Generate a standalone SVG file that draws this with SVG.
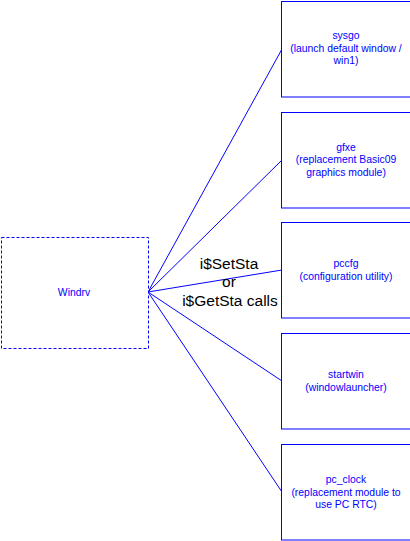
<svg xmlns="http://www.w3.org/2000/svg" width="410" height="541" viewBox="0 0 410 541">
<style>
.box{fill:#fff;stroke:#0000ff;stroke-width:1}
.dash{stroke-dasharray:3,2}
.lbl{font-family:"Liberation Sans",Arial,sans-serif;font-size:10.4px;fill:#0000ff;text-anchor:middle}
.big{font-family:"Liberation Sans",Arial,sans-serif;font-size:15.5px;fill:#000;text-anchor:middle}
.con{stroke:#0000ff;stroke-width:1;fill:none}
</style>
<rect width="410" height="541" fill="#fff"/>
<g id="connectors">
<line class="con" x1="148" y1="292" x2="282" y2="49"/>
<line class="con" x1="148" y1="292" x2="282" y2="160"/>
<line class="con" x1="148" y1="292" x2="282" y2="270"/>
<line class="con" x1="148" y1="292" x2="282" y2="381"/>
<line class="con" x1="148" y1="292" x2="282" y2="492"/>
<text class="big" x="229" y="269">i$SetSta</text>
<text class="big" x="229" y="287">or</text>
<text class="big" x="230" y="306">i$GetSta calls</text>
</g>
<g id="windrv">
<rect class="box dash" x="1.5" y="237.5" width="147" height="111"/>
<text class="lbl" x="74" y="296">Windrv</text>
</g>
<g id="sysgo">
<rect class="box" x="281.5" y="1.5" width="140" height="95.5"/>
<text class="lbl" x="346" y="39">sysgo</text>
<text class="lbl" x="346" y="51.5">(launch default window /</text>
<text class="lbl" x="346" y="64">win1)</text>
</g>
<g id="gfxe">
<rect class="box" x="281.5" y="112.5" width="140" height="95.5"/>
<text class="lbl" x="346" y="150.5">gfxe</text>
<text class="lbl" x="346" y="163">(replacement Basic09</text>
<text class="lbl" x="346" y="175.5">graphics module)</text>
</g>
<g id="pccfg">
<rect class="box" x="281.5" y="222.5" width="140" height="95.5"/>
<text class="lbl" x="346" y="267">pccfg</text>
<text class="lbl" x="346" y="280">(configuration utility)</text>
</g>
<g id="startwin">
<rect class="box" x="281.5" y="333.5" width="140" height="95.5"/>
<text class="lbl" x="346" y="378">startwin</text>
<text class="lbl" x="346" y="391">(windowlauncher)</text>
</g>
<g id="pc_clock">
<rect class="box" x="281.5" y="444.5" width="140" height="95.5"/>
<text class="lbl" x="346" y="483">pc_clock</text>
<text class="lbl" x="346" y="495.5">(replacement module to</text>
<text class="lbl" x="346" y="508">use PC RTC)</text>
</g>
</svg>
